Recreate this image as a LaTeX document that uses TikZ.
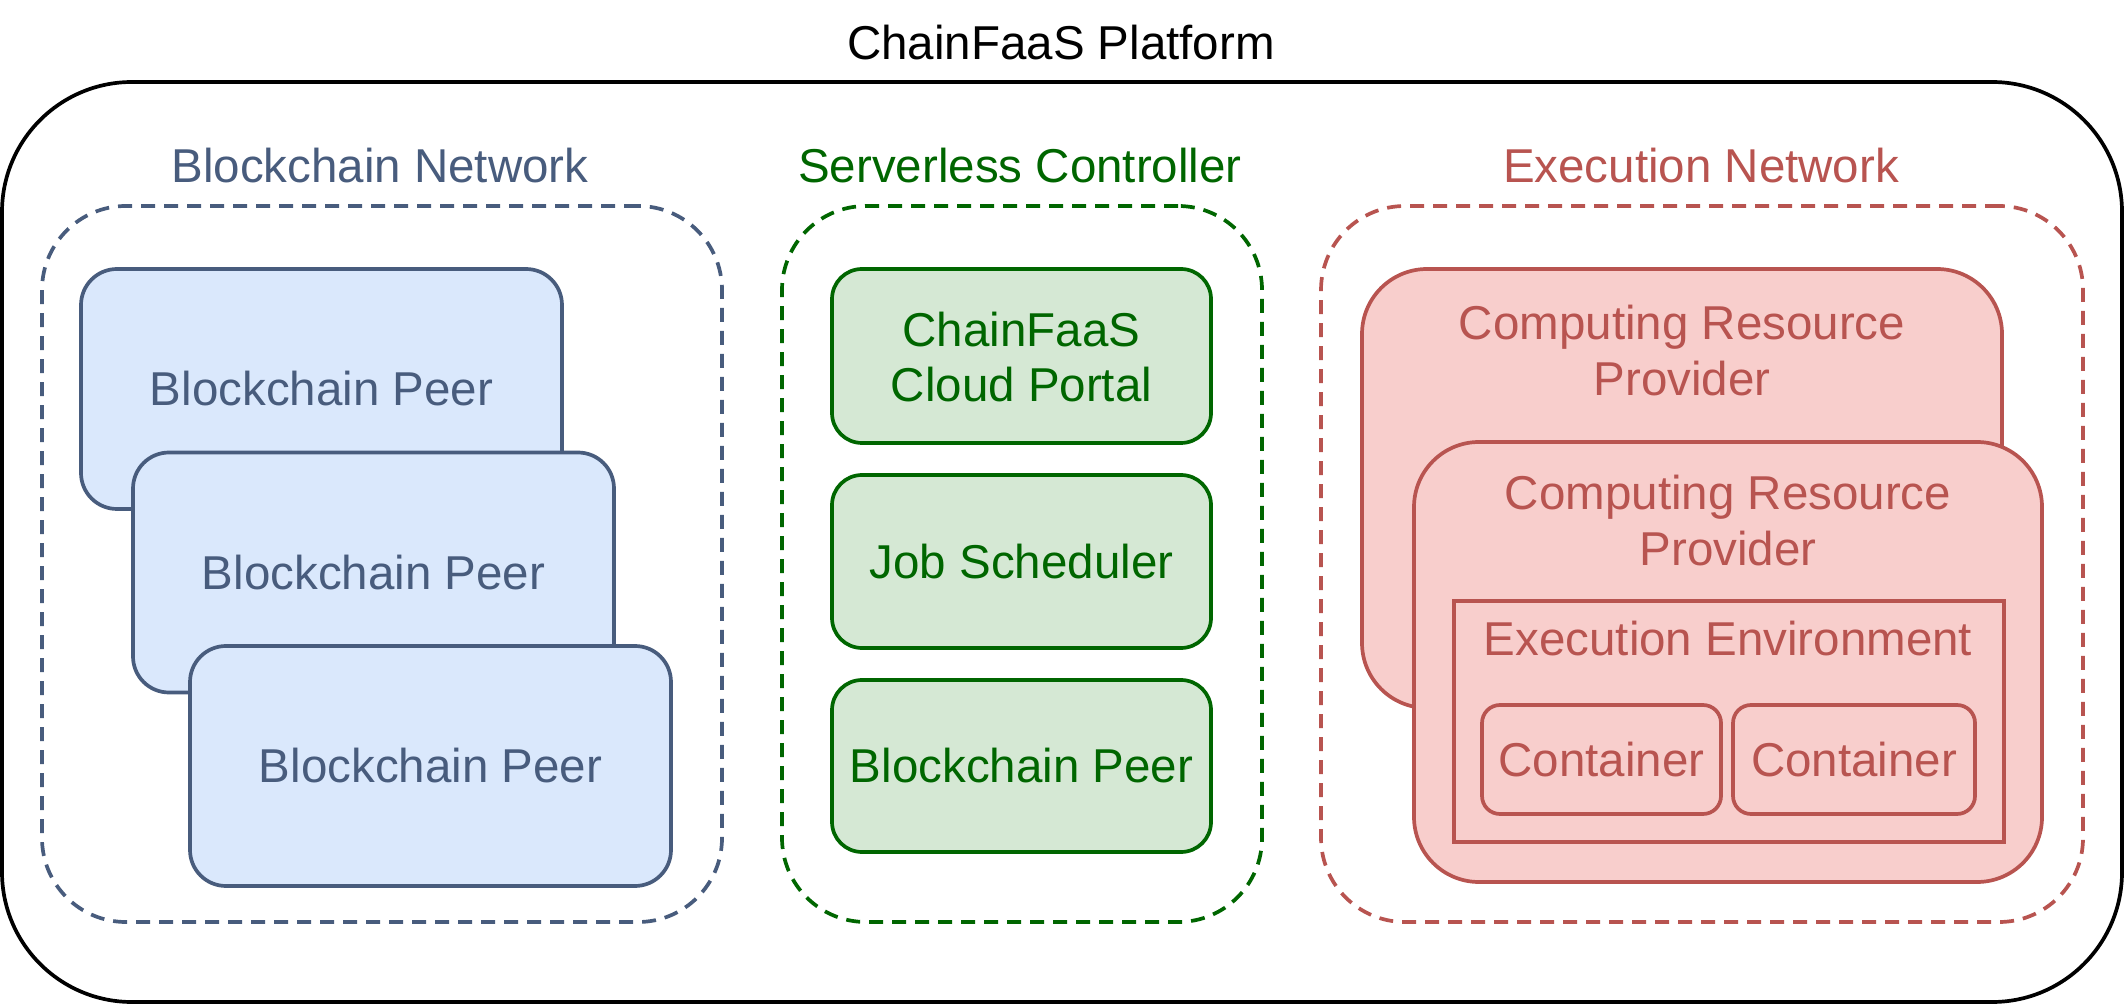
\documentclass[tikz,border=0pt]{standalone}
\usepackage{fontspec}
\setmainfont{Liberation Sans}
\definecolor{bluestroke}{HTML}{485C7D}
\definecolor{bluefill}{HTML}{DAE8FC}
\definecolor{greenstroke}{HTML}{006600}
\definecolor{greenfill}{HTML}{D5E8D4}
\definecolor{redstroke}{HTML}{B85450}
\definecolor{redfill}{HTML}{F8CECC}
\tikzset{
  txt/.style={font=\fontsize{23.75}{27.5}\selectfont, inner sep=0pt},
  boxbase/.style={draw, line width=1.85pt, inner sep=0pt, txt},
  outerbox/.style={boxbase, draw=black, rounded corners=65pt},
  grp/.style={boxbase, dash pattern=on 7pt off 4.5pt, rounded corners=42pt, fill=none},
  peerbox/.style={boxbase, draw=bluestroke, fill=bluefill, text=bluestroke, rounded corners=18pt, minimum width=240.5pt, minimum height=120pt},
  gbox/.style={boxbase, draw=greenstroke, fill=greenfill, text=greenstroke, rounded corners=15pt, minimum width=189.5pt},
  rbox/.style={boxbase, draw=redstroke, fill=redfill, text=redstroke, rounded corners=32.5pt},
  envbox/.style={boxbase, draw=redstroke, fill=redfill},
  contbox/.style={boxbase, draw=redstroke, fill=redfill, text=redstroke, rounded corners=9pt, minimum height=54.5pt},
}
\begin{document}
\begin{tikzpicture}[x=0.5pt, y=-0.5pt]
\useasboundingbox (0,0) rectangle (2124,1004);
% outer platform
\node[outerbox, minimum width=1060pt, minimum height=460pt] (platform) at (1062,542) {};
\node[txt, anchor=base] (ptitle) at (1061,60) {ChainFaaS Platform};

% groups
\node[grp, draw=bluestroke, minimum width=340pt, minimum height=358pt] (bnet) at (382,564) {};
\node[grp, draw=greenstroke, minimum width=240pt, minimum height=358pt] (sctrl) at (1022,564) {};
\node[grp, draw=redstroke, minimum width=381pt, minimum height=358pt] (enet) at (1702,564) {};
\node[txt, anchor=base, text=bluestroke] (bnetlabel) at (380,183) {Blockchain Network};
\node[txt, anchor=base, text=greenstroke] (sctrllabel) at (1020,183) {Serverless Controller};
\node[txt, anchor=base, text=redstroke] (enetlabel) at (1701,183) {Execution Network};

% blockchain peers
\node[peerbox] (peer1) at (321.5,389) {Blockchain Peer};
\node[peerbox] (peer2) at (373.5,572.5) {Blockchain Peer};
\node[peerbox] (peer3) at (430.5,766) {Blockchain Peer};

% serverless controller
\node[gbox, minimum height=87pt] (portal) at (1021.5,356) {};
\node[txt, anchor=base, text=greenstroke] (portalt1) at (1021.5,347) {ChainFaaS};
\node[txt, anchor=base, text=greenstroke] (portalt2) at (1021.5,402) {Cloud Portal};
\node[gbox, minimum height=86.5pt] (jobs) at (1021.5,561.5) {Job Scheduler};
\node[gbox, minimum height=86pt] (cpeer) at (1021.5,766) {Blockchain Peer};

% execution network
\node[rbox, minimum width=320pt, minimum height=219.5pt] (crp1) at (1682,488.5) {};
\node[txt, anchor=base, text=redstroke] (crp1t1) at (1682,340) {Computing Resource};
\node[txt, anchor=base, text=redstroke] (crp1t2) at (1682,396) {Provider};
\node[rbox, minimum width=314pt, minimum height=220pt] (crp2) at (1728,662) {};
\node[txt, anchor=base, text=redstroke] (crp2t1) at (1728,510) {Computing Resource};
\node[txt, anchor=base, text=redstroke] (crp2t2) at (1728,566) {Provider};
\node[envbox, minimum width=275pt, minimum height=120.5pt] (env) at (1729,721.5) {};
\node[txt, anchor=base, text=redstroke] (envt) at (1728,655) {Execution Environment};
\node[contbox, minimum width=119.5pt] (cont1) at (1601.5,759.5) {Container};
\node[contbox, minimum width=121pt] (cont2) at (1854,759.5) {Container};
\end{tikzpicture}
\end{document}
